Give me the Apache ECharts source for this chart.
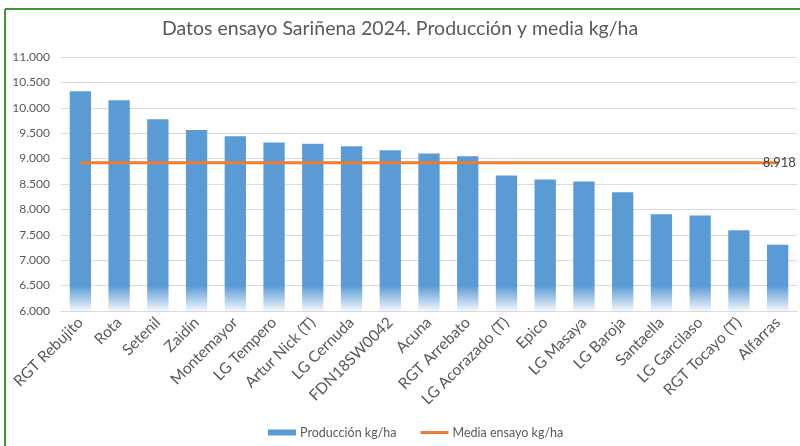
<!DOCTYPE html>
<html><head><meta charset="utf-8">
<script src="https://cdn.jsdelivr.net/npm/echarts@6/dist/echarts.min.js"></script>
<style>html,body{margin:0;padding:0;background:#fff}#c{width:800px;height:446px}</style>
</head><body><div id="c"></div>
<script>
const categories = ['RGT Rebujito','Rota','Setenil','Zaidín','Montemayor','LG Tempero','Artur Nick (T)','LG Cernuda','FDN18SW0042','Acuna','RGT Arrebato','LG Acorazado (T)','Epico','LG Masaya','LG Baroja','Santaella','LG Garcilaso','RGT Tocayo (T)','Alfarras'];
const produccion = [10325,10150,9775,9565,9440,9315,9290,9245,9165,9100,9045,8665,8590,8550,8340,7905,7880,7590,7305];
const media = [8918,8918,8918,8918,8918,8918,8918,8918,8918,8918,8918,8918,8918,8918,8918,8918,8918,8918,8918];
const yTickLabels = ['6.000','6.500','7.000','7.500','8.000','8.500','9.000','9.500','10.000','10.500','11.000'];
const titleText = 'Datos ensayo Sariñena 2024. Producción y media kg/ha';
const seriesNames = ['Producción kg/ha','Media ensayo kg/ha'];
const mediaLabel = '8.918';

const FONT = 'Lato';
const chart = echarts.init(document.getElementById('c'), null, {renderer:'canvas'});
const blue = '#5B9BD5', orange = '#ED7D31';
chart.setOption({
  backgroundColor:'#ffffff',
  animation:false,
  title:{text:titleText,left:'center',top:14,textStyle:{fontFamily:FONT,fontSize:19.5,fontWeight:'normal',color:'#595959'}},
  grid:{left:61,right:3,top:57,bottom:135},
  legend:{top:421,left:263,itemGap:24,itemWidth:28,itemHeight:6,
    textStyle:{fontFamily:FONT,fontSize:12.5,color:'#595959',padding:[0,0,0,-1]},
    data:[{name:seriesNames[0],icon:'rect',itemStyle:{color:blue}},{name:seriesNames[1],icon:'path://M0,4L28,4L28,7L0,7Z',itemStyle:{color:orange}}]},
  xAxis:{type:'category',data:categories,
    axisLine:{lineStyle:{color:'#d9d9d9'}},axisTick:{show:false},
    axisLabel:{rotate:45,interval:0,margin:9,fontFamily:FONT,fontSize:15.5,color:'#595959'}},
  yAxis:{type:'value',min:6000,max:11000,interval:500,
    axisLine:{show:false},axisTick:{show:false},
    splitLine:{lineStyle:{color:'#d9d9d9'}},
    axisLabel:{margin:11,fontFamily:FONT,fontSize:12,color:'#595959',
      formatter:(v)=>yTickLabels[Math.round((v-6000)/500)]}},
  series:[
    {name:seriesNames[0],type:'bar',data:produccion,barWidth:'55%',
     itemStyle:{color:new echarts.graphic.LinearGradient(0,286,0,311,[{offset:0,color:blue},{offset:1,color:'#f2f7fc'}],true)}},
    {name:seriesNames[1],type:'line',data:media,symbol:'none',showSymbol:false,
     lineStyle:{color:orange,width:3},itemStyle:{color:orange},
     endLabel:{show:true,formatter:mediaLabel,offset:[-23,0],fontFamily:FONT,fontSize:13,color:'#404040'}}
  ],
  graphic:[
    {type:'line',shape:{x1:5,y1:9,x2:800,y2:9},style:{stroke:'#3a9a2e',lineWidth:2},z:100},
    {type:'line',shape:{x1:5,y1:9,x2:5,y2:446},style:{stroke:'#3a9a2e',lineWidth:2},z:100}
  ]
});
</script></body></html>
